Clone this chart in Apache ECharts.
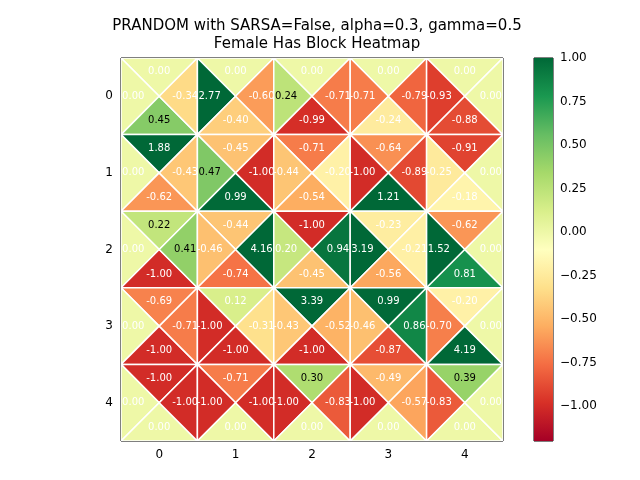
<!DOCTYPE html>
<html><head><meta charset="utf-8">
<script src="https://cdn.jsdelivr.net/npm/echarts@6/dist/echarts.min.js"></script>
<style>html,body{margin:0;padding:0;background:#fff}#c{width:640px;height:480px}</style>
</head><body><div id="c"></div>
<script>
const rows = [0,1,2,3,4];
const cols = [0,1,2,3,4];
// each cell: [top, left, bottom, right]
const row0 = [[0.00,0.00,0.45,-0.34],[0.00,2.77,-0.40,-0.60],[0.00,0.24,-0.99,-0.71],[0.00,-0.71,-0.24,-0.79],[0.00,-0.93,-0.88,0.00]];
const row1 = [[1.88,0.00,-0.62,-0.43],[-0.45,0.47,0.99,-1.00],[-0.71,-0.44,-0.54,-0.20],[-0.64,-1.00,1.21,-0.89],[-0.91,-0.25,-0.18,0.00]];
const row2 = [[0.22,0.00,-1.00,0.41],[-0.44,-0.46,-0.74,4.16],[-1.00,0.20,-0.45,0.94],[-0.23,3.19,-0.56,-0.21],[-0.62,1.52,0.81,0.00]];
const row3 = [[-0.69,0.00,-1.00,-0.71],[0.12,-1.00,-1.00,-0.31],[3.39,-0.43,-1.00,-0.52],[0.99,-0.46,-0.87,0.86],[-0.20,-0.70,4.19,0.00]];
const row4 = [[-1.00,0.00,0.00,-1.00],[-0.71,-1.00,0.00,-1.00],[0.30,-1.00,0.00,-0.83],[-0.49,-1.00,0.00,-0.57],[0.39,-0.83,0.00,0.00]];
const grid = [row0,row1,row2,row3,row4];
const tickLabels = ['0','1','2','3','4'];
const cbTicks = [-1.0,-0.75,-0.5,-0.25,0,0.25,0.5,0.75,1.0];
const vmin = -1.2, vmax = 1.0;
const cmap = ['#a50026','#d73027','#f46d43','#fdae61','#fee08b','#ffffbf','#d9ef8b','#a6d96a','#66bd63','#1a9850','#006837'];

function hex(h){return [1,3,5].map(i=>parseInt(h.substr(i,2),16));}
function color(v){
  let t=(v-vmin)/(vmax-vmin); t=Math.max(0,Math.min(1,t));
  const p=t*(cmap.length-1), i=Math.min(Math.floor(p),cmap.length-2), f=p-i;
  const a=hex(cmap[i]), b=hex(cmap[i+1]);
  return 'rgb('+a.map((x,k)=>Math.round(x+(b[k]-x)*f)).join(',')+')';
}
const data=[];
rows.forEach(r=>cols.forEach(c=>grid[r][c].forEach((v,k)=>data.push([c,r,k,v]))));

const offs=[[0,-0.32],[-0.34,0],[0,0.32],[0.34,0]];
function renderTri(params,api){
  const x=api.value(0), y=api.value(1), k=api.value(2), v=api.value(3);
  const corners={tl:[x-0.5,y-0.5],tr:[x+0.5,y-0.5],bl:[x-0.5,y+0.5],br:[x+0.5,y+0.5]};
  const sets=[['tl','tr'],['tl','bl'],['bl','br'],['tr','br']][k];
  const pts=[api.coord(corners[sets[0]]),api.coord(corners[sets[1]]),api.coord([x,y])];
  const tp=api.coord([x+offs[k][0],y+offs[k][1]]);
  const black = v>=0.21 && v<=0.5;
  return {type:'group',children:[
    {type:'polygon',shape:{points:pts},style:{fill:color(v),stroke:'#fff',lineWidth:1.5}},
    {type:'text',x:tp[0],y:tp[1],style:{text:v.toFixed(2),fill:black?'#000':'#fff',font:'10px "DejaVu Sans"',align:'center',verticalAlign:'middle'}}
  ]};
}
function renderBar(params,api){
  const p1=api.coord([0,vmax]), p2=api.coord([1,vmin]);
  const stops=cmap.map((c,i)=>({offset:1-i/(cmap.length-1),color:c}));
  return {type:'rect',shape:{x:p1[0],y:p1[1],width:p2[0]-p1[0],height:p2[1]-p1[1]},
    style:{fill:new echarts.graphic.LinearGradient(0,0,0,1,stops)}};
}
const ax={color:'#000',fontSize:12,fontFamily:'DejaVu Sans'};
const chart=echarts.init(document.getElementById('c'));
chart.setOption({
  animation:false,
  title:{text:'PRANDOM with SARSA=False, alpha=0.3, gamma=0.5\nFemale Has Block Heatmap',left:312,top:12,textAlign:'center',
    textStyle:{fontSize:15,fontWeight:'normal',fontFamily:'DejaVu Sans',color:'#000',lineHeight:18}},
  grid:[{left:121,top:58,width:382,height:383,show:true,borderColor:'#000',borderWidth:1},
        {left:534,top:58,width:19,height:383,show:true,borderColor:'#000',borderWidth:1}],
  xAxis:[{gridIndex:0,type:'value',min:-0.5,max:4.5,axisLine:{show:false},splitLine:{show:false},
    axisTick:{show:true,customValues:[0,1,2,3,4],length:4,lineStyle:{color:'#000'}},
    axisLabel:{customValues:[0,1,2,3,4],formatter:v=>tickLabels[Math.round(v)],...ax,margin:8}},
    {gridIndex:1,type:'value',min:0,max:1,show:false}],
  yAxis:[{gridIndex:0,type:'value',min:-0.5,max:4.5,inverse:true,axisLine:{show:false},splitLine:{show:false},
    axisTick:{show:true,customValues:[0,1,2,3,4],length:4,lineStyle:{color:'#000'}},
    axisLabel:{customValues:[0,1,2,3,4],formatter:v=>tickLabels[Math.round(v)],...ax,margin:8}},
    {gridIndex:1,type:'value',min:vmin,max:vmax,position:'right',axisLine:{show:false},splitLine:{show:false},
    axisTick:{show:true,customValues:cbTicks,length:4,lineStyle:{color:'#000'}},
    axisLabel:{customValues:cbTicks,formatter:v=>v.toFixed(2).replace('-','\u2212'),...ax,margin:7}}],
  series:[
    {type:'custom',xAxisIndex:0,yAxisIndex:0,data:data,renderItem:renderTri,clip:true},
    {type:'custom',xAxisIndex:1,yAxisIndex:1,data:[[0,0]],renderItem:renderBar}
  ]
});
</script></body></html>
